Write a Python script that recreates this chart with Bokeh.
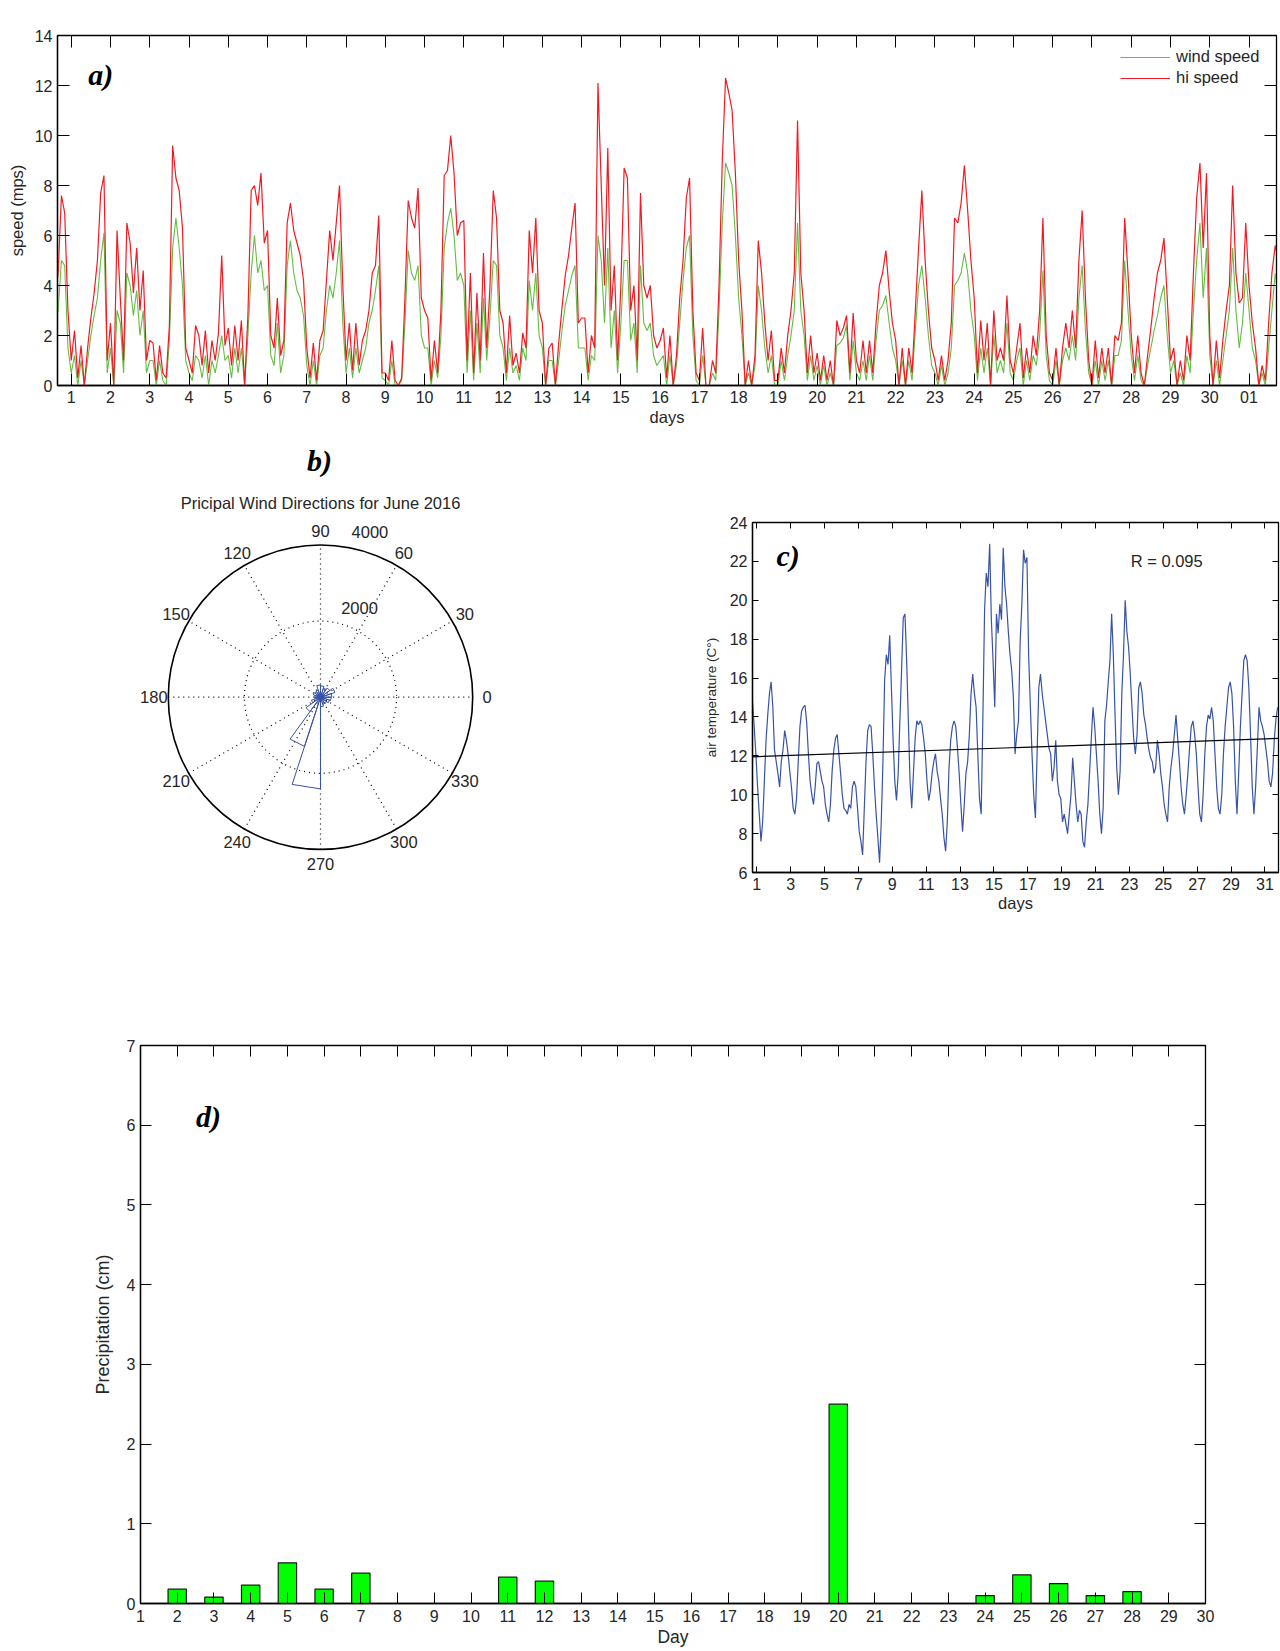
import numpy as np
from bokeh.plotting import figure
from bokeh.models import Range1d, LinearAxis, FixedTicker, Label, Legend, LegendItem
from bokeh.layouts import column, row
from bokeh.embed import file_html
from bokeh.resources import INLINE

FONT = "Liberation Sans"
SERIF = "Liberation Serif"
TXT = "#262626"
RED = "#ED1C24"
GREEN = "#66BB44"
BLUE = "#3853A4"

# ---------------- data ----------------
# panel a: wind speeds sampled every 2 hours starting at day 7/12
wind_t0 = 7.0 / 12.0
wind_step = 1.0 / 12.0
hi_speed = [
    3.5, 4.5, 7.6, 6.9, 3.0,
    1.0, 2.2, 0.3, 1.6, 0.0, 1.5, 2.7, 3.7, 5.0, 7.7, 8.4, 1.0,
    2.5, 0.0, 6.2, 3.5, 1.0, 6.5, 5.7, 3.7, 5.5, 3.0, 4.6, 1.0,
    1.8, 1.7, 0.2, 1.6, 0.5, 0.3, 2.4, 9.6, 8.3, 7.8, 6.3, 1.5,
    1.0, 0.5, 2.4, 2.0, 0.8, 2.2, 0.5, 1.8, 1.0, 2.1, 5.2, 1.6,
    2.3, 0.8, 2.4, 1.0, 2.6, 0.0, 2.8, 7.8, 8.0, 7.2, 8.5, 5.7,
    6.2, 2.0, 1.5, 3.5, 1.2, 1.8, 6.5, 7.3, 6.2, 5.7, 5.2, 4.2,
    1.5, 0.3, 1.7, 0.2, 1.8, 2.2, 4.2, 6.2, 5.0, 6.5, 8.0, 4.0,
    1.0, 2.5, 0.6, 2.5, 0.8, 1.8, 2.2, 3.0, 4.5, 4.8, 6.8, 0.5,
    0.5, 0.2, 1.8, 0.2, 0.0, 0.3, 3.5, 7.4, 6.7, 6.3, 7.9, 3.5,
    3.0, 2.7, 0.2, 1.8, 0.5, 3.0, 8.4, 8.6, 10.0, 8.5, 6.0, 6.5,
    6.6, 1.0, 4.5, 0.5, 3.7, 1.0, 5.3, 1.5, 4.0, 7.8, 6.7, 3.0,
    2.5, 0.5, 2.8, 0.8, 1.3, 0.5, 2.1, 1.5, 6.2, 4.5, 6.7, 3.0,
    2.5, 0.0, 1.5, 1.7, 0.0, 1.7, 3.1, 4.4, 5.2, 6.3, 7.3, 2.5,
    2.7, 2.7, 0.5, 2.0, 1.5, 12.1, 8.0, 4.0, 9.5, 3.0, 4.8, 1.0,
    4.0, 8.7, 8.3, 3.0, 4.0, 1.0, 7.7, 4.0, 3.5, 4.0, 2.0, 1.5,
    1.8, 2.3, 0.3, 2.0, 0.0, 1.2, 3.5, 5.0, 7.5, 8.3, 3.0, 0.5,
    0.2, 2.3, 0.0, 0.0, 1.0, 0.5, 4.0, 9.0, 12.3, 11.7, 11.0, 8.5,
    5.0, 3.0, 0.0, 1.0, 0.0, 1.2, 5.8, 4.5, 2.5, 1.0, 2.2, 0.2,
    0.2, 1.5, 0.5, 2.0, 3.0, 4.5, 10.6, 4.5, 3.0, 0.5, 2.0, 0.5,
    1.3, 0.2, 1.2, 0.2, 1.0, 0.0, 2.6, 2.0, 2.3, 2.8, 0.5, 2.9,
    1.0, 0.5, 1.8, 0.5, 1.8, 0.5, 2.5, 4.0, 4.5, 5.4, 3.8, 2.5,
    1.8, 0.0, 1.5, 0.0, 1.5, 0.5, 3.0, 5.5, 7.8, 5.0, 3.0, 1.5,
    1.0, 0.2, 1.2, 0.2, 1.0, 2.5, 6.7, 6.5, 7.3, 8.8, 7.0, 5.0,
    3.5, 0.5, 2.6, 1.0, 2.5, 0.0, 3.0, 1.0, 1.5, 1.0, 3.6, 1.0,
    0.5, 1.5, 2.5, 0.3, 1.5, 0.5, 2.0, 1.2, 3.0, 6.7, 2.0, 0.5,
    0.2, 1.5, 0.0, 1.5, 2.5, 1.5, 3.0, 1.5, 5.0, 7.0, 3.5, 1.0,
    0.0, 1.8, 0.3, 1.5, 0.5, 1.5, 0.0, 2.0, 1.8, 2.5, 6.7, 4.5,
    2.0, 0.5, 2.0, 0.5, 0.0, 1.2, 2.3, 3.5, 4.5, 5.0, 5.9, 3.5,
    1.0, 1.5, 0.0, 1.0, 0.2, 2.0, 1.0, 4.5, 7.5, 8.9, 5.5, 8.5,
    2.0, 0.0, 1.8, 0.3, 1.8, 3.0, 4.0, 8.0, 4.5, 3.3, 3.5, 6.5,
    4.0, 2.5, 1.5, 0.0, 0.8, 0.2, 2.5, 4.5, 5.6, 5.0,
]
wind_speed = [
    2.5, 3.0, 5.0, 4.8, 1.5,
    0.5, 1.2, 0.0, 1.0, 0.0, 1.0, 2.0, 2.8, 3.5, 5.0, 6.1, 0.5,
    1.5, 0.0, 3.0, 2.5, 0.5, 4.5, 4.0, 2.8, 3.8, 2.0, 3.0, 0.5,
    1.0, 1.0, 0.0, 1.0, 0.2, 0.0, 1.8, 5.5, 6.7, 5.5, 4.0, 1.0,
    0.5, 0.2, 1.2, 1.0, 0.3, 1.2, 0.0, 1.0, 0.5, 1.2, 2.0, 1.0,
    1.2, 0.3, 1.5, 0.5, 1.5, 0.0, 2.0, 4.5, 6.0, 4.5, 5.0, 3.8,
    4.0, 1.2, 0.8, 2.5, 0.5, 1.2, 4.8, 5.8, 4.5, 3.8, 3.5, 2.8,
    0.8, 0.0, 1.0, 0.0, 1.2, 1.5, 3.0, 4.0, 3.5, 4.5, 5.8, 2.5,
    0.5, 1.5, 0.3, 1.5, 0.5, 1.0, 1.5, 2.5, 3.0, 3.8, 4.8, 0.3,
    0.2, 0.0, 1.0, 0.0, 0.0, 0.2, 2.5, 5.4, 4.5, 4.2, 4.8, 2.0,
    1.5, 1.5, 0.0, 1.0, 0.3, 2.0, 5.5, 6.5, 7.1, 6.0, 4.2, 4.5,
    4.0, 0.5, 3.0, 0.2, 2.5, 0.5, 3.5, 1.0, 2.8, 5.0, 4.8, 2.0,
    1.5, 0.2, 1.5, 0.5, 0.8, 0.2, 1.5, 1.0, 4.2, 3.0, 4.5, 2.0,
    1.5, 0.0, 1.0, 1.0, 0.0, 1.0, 2.2, 3.2, 3.8, 4.4, 4.8, 1.5,
    1.5, 1.5, 0.2, 1.2, 1.0, 6.0, 5.0, 2.5, 5.5, 1.5, 3.0, 0.5,
    2.5, 5.0, 5.0, 1.8, 2.5, 0.5, 4.8, 2.5, 2.2, 2.5, 1.2, 0.8,
    1.0, 1.2, 0.0, 1.2, 0.0, 0.8, 2.5, 4.2, 5.5, 6.0, 2.0, 0.2,
    0.0, 1.2, 0.0, 0.0, 0.5, 0.2, 3.0, 6.5, 8.9, 8.5, 8.0, 6.0,
    3.5, 2.0, 0.0, 0.5, 0.0, 0.8, 4.0, 3.0, 1.5, 0.5, 1.2, 0.0,
    0.0, 1.0, 0.2, 1.2, 2.0, 3.0, 6.5, 3.0, 2.0, 0.2, 1.2, 0.2,
    0.8, 0.0, 0.8, 0.0, 0.5, 0.0, 1.6, 1.7, 1.9, 2.4, 0.2, 1.8,
    0.5, 0.2, 1.0, 0.2, 1.2, 0.2, 1.8, 3.0, 3.2, 3.6, 2.5, 1.5,
    1.0, 0.0, 1.0, 0.0, 1.0, 0.2, 2.2, 4.0, 4.8, 3.5, 2.0, 0.8,
    0.5, 0.0, 0.8, 0.0, 0.5, 1.5, 4.0, 4.2, 4.5, 5.3, 4.5, 3.0,
    2.0, 0.2, 1.5, 0.5, 1.5, 0.0, 2.0, 0.5, 1.0, 0.5, 2.5, 0.5,
    0.2, 1.0, 1.5, 0.0, 1.0, 0.2, 1.2, 0.8, 2.0, 4.6, 1.2, 0.2,
    0.0, 1.0, 0.0, 1.0, 1.5, 1.0, 2.0, 1.0, 3.5, 4.8, 2.2, 0.5,
    0.0, 1.0, 0.0, 1.0, 0.2, 1.0, 0.0, 1.2, 1.2, 1.8, 5.0, 3.0,
    1.2, 0.2, 1.2, 0.2, 0.0, 0.8, 1.5, 2.2, 2.8, 3.5, 4.0, 2.0,
    0.5, 1.0, 0.0, 0.5, 0.0, 1.2, 0.5, 3.0, 5.0, 6.5, 3.5, 5.5,
    1.2, 0.0, 1.0, 0.0, 1.0, 2.0, 3.0, 5.5, 3.0, 1.5, 2.5, 4.5,
    3.0, 1.5, 1.0, 0.0, 0.5, 0.0, 1.5, 3.0, 4.5, 3.5,
]
wind_day_ticks = list(range(1, 32))
wind_day_overrides = {31: "01"}

# panel b: wind rose, 18-degree bins
rose_bin_deg = 18
rose_counts = [300, 400, 300, 250, 300, 320, 200, 180, 200, 150,
               150, 250, 470, 1360, 2410, 250, 200, 200, 250, 280]
rose_rings = [2000, 4000]
rose_angle_labels = list(range(0, 360, 30))

# panel c: air temperature sampled every 0.1 day from day 0.75
temp_t0 = 0.75
temp_step = 0.1
air_temp = [
    14.8, 13.5, 12.1, 10.4, 9.0, 7.6, 8.6, 10.7, 12.8, 14.1, 15.2, 15.8, 14.5, 12.3, 11.7, 11.1,
    10.4, 11.7, 12.3, 13.3, 12.8, 12.1, 11.2, 10.4, 9.3, 9.0, 9.8, 11.7, 13.5, 14.3, 14.5, 14.6,
    13.7, 12.1, 10.7, 10.0, 9.5, 10.4, 11.6, 11.7, 11.2, 10.7, 10.4, 9.5, 9.0, 8.6, 9.5, 11.2,
    12.3, 12.9, 13.1, 12.1, 11.1, 10.0, 9.3, 9.2, 9.0, 9.5, 9.3, 10.4, 10.7, 10.4, 9.3, 8.1,
    7.6, 6.9, 9.3, 11.7, 13.3, 13.6, 13.5, 12.1, 10.4, 9.0, 7.8, 6.5, 8.6, 11.7, 15.9, 17.2,
    16.7, 18.2, 15.5, 12.8, 10.7, 9.7, 11.1, 13.8, 16.4, 19.1, 19.3, 16.9, 13.8, 10.7, 9.3, 11.1,
    12.9, 13.8, 13.6, 13.8, 13.6, 12.9, 12.1, 10.7, 9.7, 10.2, 11.1, 11.7, 12.1, 11.2, 10.7, 9.8,
    9.0, 7.8, 7.1, 8.6, 11.4, 12.8, 13.5, 13.8, 13.5, 12.4, 11.1, 9.5, 8.1, 9.5, 11.1, 11.7,
    13.1, 15.2, 16.2, 15.2, 14.5, 12.1, 9.8, 9.0, 14.0, 19.5, 21.4, 20.7, 22.9, 19.0, 16.9, 14.5,
    19.3, 18.3, 19.8, 19.0, 22.7, 20.7, 19.8, 18.4, 17.2, 16.4, 15.0, 12.1, 13.1,
    13.8, 17.9, 19.8, 22.6, 21.9, 22.2, 17.2, 14.6, 12.1, 10.0, 8.8, 12.1, 15.5, 16.2, 15.2, 14.5,
    13.8, 13.1, 12.4, 12.1, 10.7, 11.4, 12.8, 10.7, 10.0, 9.8, 8.6, 9.0, 8.5, 8.0, 9.0, 10.0,
    11.9, 10.7, 9.5, 8.6, 9.2, 9.0, 7.6, 7.3, 8.6, 9.5, 11.2, 12.9, 14.5, 13.5, 12.1, 10.7,
    9.0, 8.0, 9.3, 13.8, 14.6, 15.8, 16.9, 19.3, 17.2, 14.1, 11.4, 10.0, 11.2, 15.2, 17.2, 20.0,
    18.4, 17.6, 16.2, 14.5, 12.9, 12.1, 13.1, 15.5, 15.8, 15.2, 14.1, 13.6, 12.9, 12.3, 11.9, 11.7,
    11.1, 11.4, 12.8, 12.1, 11.1, 10.4, 9.5, 9.0, 8.6, 10.4, 11.4, 12.1, 13.1, 14.1, 12.9, 11.7,
    10.4, 9.5, 9.0, 10.0, 11.1, 12.4, 13.5, 13.8, 13.1, 12.1, 10.4, 9.0, 8.6, 10.0, 12.1, 13.5,
    14.1, 13.9, 14.5, 13.8, 12.1, 10.4, 9.3, 9.0, 10.0, 12.1, 13.5, 14.5, 15.5, 15.8, 15.2, 13.5,
    10.7, 9.0, 11.1, 13.5, 15.2, 16.9, 17.2, 16.9, 15.5, 13.1, 10.4, 9.0, 10.4, 12.4, 14.5, 13.8,
    13.5, 13.1, 12.4, 11.7, 10.7, 10.4, 11.1, 12.8, 13.9, 14.5,
]
trend_days = [0.75, 31.8]
trend_temp = [11.95, 12.9]
r_text = "R = 0.095"
temp_day_ticks = list(range(1, 32, 2))

# panel d: precipitation
precip_days = [2, 3, 4, 5, 6, 7, 11, 12, 20, 24, 25, 26, 27, 28]
precip_cm = [0.18, 0.08, 0.23, 0.51, 0.18, 0.38, 0.33, 0.28, 2.50, 0.10, 0.36, 0.25, 0.10, 0.15]
precip_day_ticks = list(range(1, 31))


# ---------------- helpers ----------------
def base_fig(xr, yr, fw, fh, bl, br, bt, bb):
    p = figure(x_range=Range1d(*xr), y_range=Range1d(*yr), frame_width=fw, frame_height=fh,
               min_border_left=bl, min_border_right=br, min_border_top=bt, min_border_bottom=bb,
               toolbar_location=None, output_backend="svg")
    p.grid.visible = False
    p.outline_line_color = "black"
    p.outline_line_width = 1.3
    p.background_fill_color = "white"
    p.border_fill_color = "white"
    return p


def style_axis(ax, ticks, tick_len, fsize, font=FONT):
    ax.ticker = FixedTicker(ticks=ticks)
    ax.major_tick_in = tick_len
    ax.major_tick_out = 0
    ax.minor_tick_in = 0
    ax.minor_tick_out = 0
    ax.major_tick_line_color = "black"
    ax.axis_line_color = "black"
    ax.axis_line_width = 1.3
    ax.major_label_text_font = font
    ax.major_label_text_font_size = fsize
    ax.major_label_text_color = TXT
    ax.axis_label_text_font = FONT
    ax.axis_label_text_font_style = "normal"
    ax.axis_label_text_color = TXT


def box_axes(p, xticks, yticks, tick_len):
    for loc, ticks in (("above", xticks), ("right", yticks)):
        ax = LinearAxis(ticker=FixedTicker(ticks=ticks), major_label_text_font_size="1px",
                        major_label_text_color=None, major_label_text_alpha=0,
                        major_label_standoff=0, major_tick_in=tick_len, major_tick_out=0,
                        minor_tick_in=0, minor_tick_out=0, axis_line_color="black",
                        major_tick_line_color="black")
        p.add_layout(ax, loc)


def panel_label(p, x, y, text):
    p.add_layout(Label(x=x, y=y, text=text, text_font=SERIF, text_font_style="bold italic",
                       text_font_size="30px", text_align="center", text_baseline="middle",
                       text_color="black"))


def title_label(p, x, y, text, size="16.5px"):
    p.add_layout(Label(x=x, y=y, text=text, text_font=FONT, text_font_size=size,
                       text_align="center", text_baseline="middle", text_color=TXT))


# ---------------- panel a ----------------
wt = wind_t0 + wind_step * np.arange(len(hi_speed))
pa = base_fig((0.65, 31.7), (0, 14), 1219, 350, 57, 4, 35, 55)
g = pa.line(wt, wind_speed, line_color=GREEN, line_width=1.1)
r = pa.line(wt, hi_speed, line_color=RED, line_width=1.2)
style_axis(pa.xaxis[0], wind_day_ticks, 12, "16px")
pa.xaxis[0].major_label_overrides = wind_day_overrides
pa.xaxis[0].axis_label = "days"
pa.xaxis[0].axis_label_text_font_size = "16.5px"
pa.xaxis[0].axis_label_standoff = 2
style_axis(pa.yaxis[0], list(range(0, 15, 2)), 12, "16px")
pa.yaxis[0].axis_label = "speed (mps)"
pa.yaxis[0].axis_label_text_font_size = "16.5px"
pa.yaxis[0].axis_label_standoff = 6
box_axes(pa, wind_day_ticks, list(range(0, 15, 2)), 12)
title_label(pa, 16.2, 14.72, "NOAA COOP Wind Speeds in June 2016")
panel_label(pa, 1.75, 12.44, "a)")
leg = Legend(items=[LegendItem(label="wind speed", renderers=[g]),
                    LegendItem(label="hi speed", renderers=[r])],
             location=(1063, 298), glyph_width=50, glyph_height=18, label_height=18,
             label_standoff=6, spacing=2, padding=0, margin=0, border_line_color=None,
             background_fill_alpha=0, label_text_font=FONT, label_text_font_size="16.5px",
             label_text_color=TXT)
pa.add_layout(leg)

# ---------------- panel b (polar rose) ----------------
pxu = 152.2 / 4000.0
pb = figure(frame_width=700, frame_height=520, min_border=0,
            x_range=Range1d(-320 / pxu, 380 / pxu), y_range=Range1d(-263.3 / pxu, 256.7 / pxu),
            x_axis_type=None, y_axis_type=None, toolbar_location=None, output_backend="svg")
pb.grid.visible = False
pb.outline_line_color = None
rmax = rose_rings[-1]
sp = np.deg2rad(np.arange(0, 180, 30))
pb.segment(x0=-rmax * np.cos(sp), y0=-rmax * np.sin(sp), x1=rmax * np.cos(sp), y1=rmax * np.sin(sp),
           line_color="black", line_width=1.2, line_dash="1 4")
pb.circle(x=[0], y=[0], radius=[rose_rings[0]], fill_color=None, line_color="black",
          line_width=1.2, line_dash="1 4")
pb.circle(x=[0], y=[0], radius=[rmax], fill_color=None, line_color="black", line_width=1.6)
xs, ys = [], []
for i, c in enumerate(rose_counts):
    a1 = np.deg2rad(i * rose_bin_deg)
    a2 = np.deg2rad((i + 1) * rose_bin_deg)
    xs.append([0, c * np.cos(a1), c * np.cos(a2), 0])
    ys.append([0, c * np.sin(a1), c * np.sin(a2), 0])
pb.patches(xs, ys, fill_color=None, line_color=BLUE, line_width=1.0)
for a in rose_angle_labels:
    rr = rmax * 1.095
    pb.add_layout(Label(x=rr * np.cos(np.deg2rad(a)), y=rr * np.sin(np.deg2rad(a)), text=str(a),
                        text_font=FONT, text_font_size="16.5px", text_align="center",
                        text_baseline="middle", text_color=TXT))
for ring, (ang, dist) in zip(rose_rings, [(66.5, 2570), (73.3, 4520)]):
    pb.add_layout(Label(x=dist * np.cos(np.deg2rad(ang)), y=dist * np.sin(np.deg2rad(ang)),
                        text=str(ring), text_font=FONT, text_font_size="16.5px",
                        text_align="center", text_baseline="middle", text_color=TXT))
pb.add_layout(Label(x=0, y=194.7 / pxu, text="Pricipal Wind Directions for June 2016",
                    text_font=FONT, text_font_size="16.5px", text_align="center",
                    text_baseline="middle", text_color=TXT))
pb.add_layout(Label(x=-1 / pxu, y=236.7 / pxu, text="b)", text_font=SERIF,
                    text_font_style="bold italic", text_font_size="30px", text_align="center",
                    text_baseline="middle", text_color="black"))

# ---------------- panel c ----------------
tt = temp_t0 + temp_step * np.arange(len(air_temp))
pc = base_fig((0.75, 31.8), (6, 24), 526, 350, 50, 4, 82, 88)
pc.line(tt, air_temp, line_color=BLUE, line_width=1.2)
pc.line(trend_days, trend_temp, line_color="black", line_width=1.2)
style_axis(pc.xaxis[0], temp_day_ticks, 6, "16px")
pc.xaxis[0].axis_label = "days"
pc.xaxis[0].axis_label_text_font_size = "16.5px"
pc.xaxis[0].axis_label_standoff = 1
style_axis(pc.yaxis[0], list(range(6, 25, 2)), 6, "16px")
pc.yaxis[0].axis_label = "air temperature (C°)"
pc.yaxis[0].axis_label_text_font_size = "13.5px"
pc.yaxis[0].axis_label_standoff = 8
box_axes(pc, temp_day_ticks, list(range(6, 25, 2)), 6)
title_label(pc, 16.25, 25.0, "NOAA COOP Air Temperatures in June 2016")
panel_label(pc, 2.85, 22.3, "c)")
pc.add_layout(Label(x=25.2, y=22.04, text=r_text, text_font=FONT, text_font_size="16.5px",
                    text_align="center", text_baseline="middle", text_color=TXT))

# ---------------- panel d ----------------
pd_ = base_fig((1, 30), (0, 7), 1065, 558, 140, 75, 85, 48)
pd_.vbar(x=precip_days, top=precip_cm, width=0.5, fill_color="#00FF00", line_color="#1a1a1a",
         line_width=1.2)
style_axis(pd_.xaxis[0], precip_day_ticks, 11, "16px")
pd_.xaxis[0].axis_label = "Day"
pd_.xaxis[0].axis_label_text_font_size = "17.5px"
pd_.xaxis[0].axis_label_standoff = 2
pd_.xaxis[0].major_label_standoff = 6
style_axis(pd_.yaxis[0], list(range(0, 8)), 11, "16px")
pd_.yaxis[0].axis_label = "Precipitation (cm)"
pd_.yaxis[0].axis_label_text_font_size = "18px"
pd_.yaxis[0].axis_label_standoff = 11
box_axes(pd_, precip_day_ticks, list(range(0, 8)), 11)
title_label(pd_, 15.5, 7.25, "Precipitation at Valdez in June 2016")
panel_label(pd_, 2.85, 6.11, "d)")

layout = column(row(pa), row(column(pb), column(pc)), row(pd_))
open("out.html", "w").write(file_html(layout, INLINE))
